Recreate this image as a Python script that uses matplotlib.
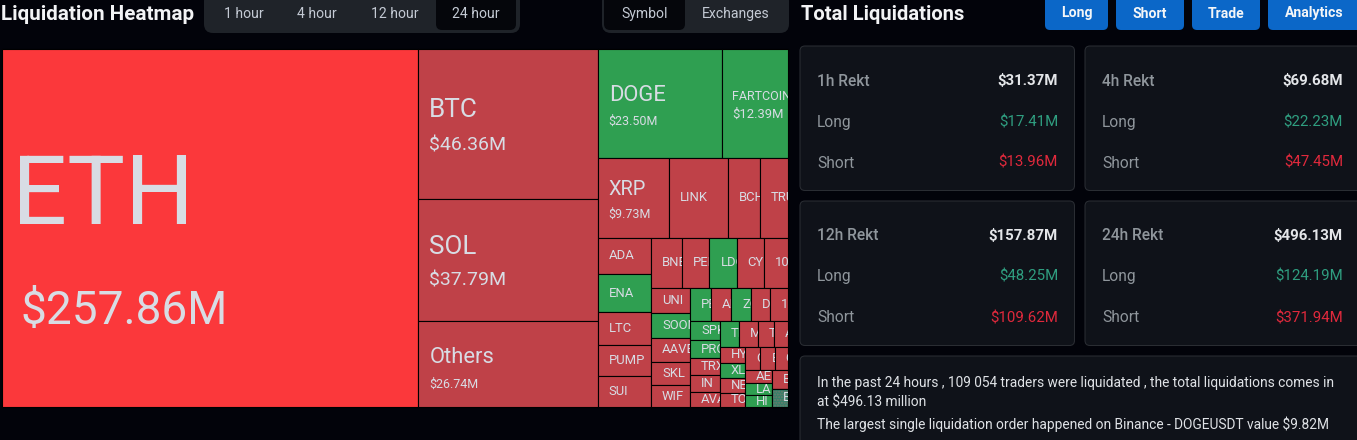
import matplotlib
matplotlib.use("Agg")
import matplotlib.pyplot as plt
from matplotlib.patches import FancyBboxPatch, Rectangle

plt.rcParams['font.family'] = ['Roboto', 'DejaVu Sans']

# treemap groups, peeled off the remaining area in this order (values in $M)
eth_names = ["ETH"]
eth_values = [257.86]
majors_names = ["BTC", "SOL", "Others"]
majors_values = [46.36, 37.79, 26.74]
meme_names = ["DOGE", "FARTCOIN"]
meme_values = [23.50, 12.39]
row2_names = ["XRP", "LINK", "BCH", "TRU"]
row2_values = [9.73, 8.2, 4.3, 3.9]
col3_names = ["ADA", "ENA", "LTC", "PUMP", "SUI"]
col3_values = [3.4, 3.5, 3.05, 2.85, 2.85]
row4_names = ["BNB", "PEP", "LDO", "CYB", "100"]
row4_values = [2.7, 2.35, 2.35, 2.35, 2.1]
col5_names = ["UNI", "SOON", "AAVE", "SKL", "WIF"]
col5_values = [1.69, 1.69, 1.62, 1.55, 1.48]
row6_names = ["PE", "AI", "ZO", "D", "1"]
row6_values = [1.21, 1.15, 1.15, 1.1, 1.04]
col7_names = ["SPK", "PRO", "TRX", "IN", "AVA"]
col7_values = [0.99, 0.93, 0.88, 0.88, 0.78]
row8_names = ["TI", "M", "T", "A"]
row8_values = [0.85, 0.81, 0.72, 0.63]
col9_names = ["HY", "XL", "NE", "TO"]
col9_values = [0.69, 0.65, 0.65, 0.62]
row10_names = ["C", "E", "G"]
row10_values = [0.62, 0.58, 0.54]
col11_names = ["AE", "LA", "HI"]
col11_values = [0.61, 0.56, 0.56]
col12_names = ["Et", "Ei"]
col12_values = [0.5, 0.5]

green_names = ["DOGE", "FARTCOIN", "ENA", "LDO", "SOON", "PE", "ZO", "SPK", "PRO",
               "TI", "XL", "LA", "HI"]
amounts = {"ETH": "$257.86M", "BTC": "$46.36M", "SOL": "$37.79M", "Others": "$26.74M",
           "DOGE": "$23.50M", "FARTCOIN": "$12.39M", "XRP": "$9.73M"}

tabs = ["1 hour", "4 hour", "12 hour", "24 hour"]
modes = ["Symbol", "Exchanges"]
buttons = ["Long", "Short", "Trade", "Analytics"]
card_titles = ["1h Rekt", "4h Rekt", "12h Rekt", "24h Rekt"]
card_totals = ["$31.37M", "$69.68M", "$157.87M", "$496.13M"]
card_longs = ["$17.41M", "$22.23M", "$48.25M", "$124.19M"]
card_shorts = ["$13.96M", "$47.45M", "$109.62M", "$371.94M"]
summary = ["In the past 24 hours , 109 054 traders were liquidated , the total liquidations comes in",
           "at $496.13 million",
           "The largest single liquidation order happened on Binance - DOGEUSDT value $9.82M"]

BG = "#02030a"
RED = "#bf4148"
HOT = "#fb383b"
GREEN = "#2f9f51"
LABEL = "#d8dce4"
CARD = "#0f1219"
EDGE = "#2a2d33"
PILL = "#1f2329"
BLUE = "#0b67c8"

fig = plt.figure(figsize=(13.57, 4.4), dpi=100, facecolor=BG)
ax = fig.add_axes([0, 0, 1, 1])
ax.set_xlim(0, 1357)
ax.set_ylim(440, 0)
ax.axis("off")


def px(size):
    return size * 0.72


def box(x0, y0, x1, y1, color, radius=6, edge="none", lw=0, z=1):
    ax.add_patch(FancyBboxPatch((x0 + radius, y0 + radius), x1 - x0 - 2 * radius, y1 - y0 - 2 * radius,
                                boxstyle=f"round,pad={radius},rounding_size={radius}",
                                fc=color, ec=edge, lw=lw, zorder=z))


def label(x, y, s, size, color=LABEL, weight="normal", ha="left", z=5, clip=None):
    t = ax.text(x, y + 1, s, fontsize=px(size), color=color, fontweight=weight, ha=ha, va="center", zorder=z)
    if clip is not None:
        t.set_clip_path(clip)
        t.set_clip_on(True)
    return t


# ---- treemap ----
groups = [("col", eth_names, eth_values), ("col", majors_names, majors_values),
          ("row", meme_names, meme_values), ("row", row2_names, row2_values),
          ("col", col3_names, col3_values), ("row", row4_names, row4_values),
          ("col", col5_names, col5_values), ("row", row6_names, row6_values),
          ("col", col7_names, col7_values), ("row", row8_names, row8_values),
          ("col", col9_names, col9_values), ("row", row10_names, row10_values),
          ("col", col11_names, col11_values), ("col", col12_names, col12_values)]

# name px, value px, gap between the two, left pad of name, left pad of value, shift down
big_styles = {"ETH": (97, 46, 113, 10, 19, 25), "BTC": (26, 19.5, 35, 11, 11, 3),
              "SOL": (26, 19.5, 34, 11, 11, 3), "Others": (22, 12.5, 26, 11, 11, 6),
              "DOGE": (22, 12.5, 26, 11, 11, 4), "FARTCOIN": (12.5, 13, 18, 10, 10, 1),
              "XRP": (20, 12.5, 24, 11, 11, 3)}

x, y, x1, y1 = 1.5, 49.0, 788.0, 407.0
remaining = sum(sum(g[2]) for g in groups)
for kind, names, values in groups:
    group_total = sum(values)
    share = group_total / remaining
    if kind == "col":
        w = (x1 - x) * share
        pos = y
        cells = []
        for v in values:
            h = (y1 - y) * v / group_total
            cells.append((x, pos, w, h))
            pos += h
        x += w
    else:
        h = (y1 - y) * share
        pos = x
        cells = []
        for v in values:
            w = (x1 - x) * v / group_total
            cells.append((pos, y, w, h))
            pos += w
        y += h
    remaining -= group_total

    for name, (cx, cy, cw, ch) in zip(names, cells):
        color = GREEN if name in green_names else RED
        if name == "ETH":
            color = HOT
        rect = Rectangle((cx, cy), cw, ch, fc=color, ec="black", lw=0.8, zorder=2)
        ax.add_patch(rect)
        if name == "Ei":
            # the last cell is a dither of green and red in the reference
            ax.add_patch(Rectangle((cx, cy), cw, ch, fc="#35806a", ec="#6f7a6a", lw=0, hatch="......", zorder=2.1))
            ax.add_patch(Rectangle((cx, cy), cw, ch, fc="none", ec="black", lw=0.8, zorder=2.2))
        mid = cy + ch / 2
        if name in amounts:
            nsize, vsize, gap, npad, vpad, shift = big_styles[name]
            label(cx + npad, mid - gap / 2 + shift, name, nsize, clip=rect)
            label(cx + vpad, mid + gap / 2 + shift, amounts[name], vsize, clip=rect)
        else:
            label(cx + 11, mid - 1, name, 13, clip=rect)

# ---- header left ----
label(1, 13, "Liquidation Heatmap", 20.7, color="#f2f3f5", weight="bold")
box(204, -8, 520, 33, PILL, radius=9)
box(436, -8, 516, 30, "#05060b", radius=6, z=2)
for s, cx in zip(tabs, [244, 317, 395, 476]):
    label(cx, 13, s, 14, color="#c4cad4", ha="center")
box(602, -8, 789, 33, PILL, radius=9)
box(604, -8, 685, 30, "#05060b", radius=6, z=2)
for s, cx in zip(modes, [645, 736]):
    label(cx, 13, s, 14, color="#c4cad4", ha="center")

# ---- header right ----
label(801, 13, "Total Liquidations", 20.2, color="#f2f3f5", weight="bold")
for s, (b0, b1) in zip(buttons, [(1045, 1108), (1116, 1184), (1192, 1260), (1268, 1370)]):
    box(b0, -8, b1, 30, BLUE, radius=5)
for s, cx in zip(buttons, [1077, 1150, 1226, 1314]):
    label(cx, 12.5, s, 14, color="#f4f6f8", weight="bold", ha="center")

# ---- cards ----
card_boxes = [(800, 46, 1074.5, 190.5), (1085, 46, 1369, 190.5),
              (800, 201, 1074.5, 345.5), (1085, 201, 1369, 345.5)]
for i, (c0, c1, c2, c3) in enumerate(card_boxes):
    box(c0, c1, c2, c3, CARD, radius=5, edge=EDGE, lw=0.75)
    left = c0 + 17
    right = 1058 if c0 == 800 else 1343
    label(left, c1 + 34, card_titles[i], 15.5, color="#8f969c", weight="medium")
    label(left, c1 + 75, "Long", 15.5, color="#8f969c")
    label(left, c1 + 116, "Short", 15.5, color="#8f969c")
    label(right, c1 + 34, card_totals[i], 15, color="#e4e6e9", weight="bold", ha="right")
    label(right, c1 + 75, card_longs[i], 15, color="#2f9e80", ha="right")
    label(right, c1 + 116, card_shorts[i], 15, color="#e0293c", ha="right")

box(800, 356, 1369, 460, CARD, radius=5, edge=EDGE, lw=0.75)
for s, ty in zip(summary, [382, 402, 423]):
    label(817, ty, s, 13.8, color="#dfe2e6")

fig.savefig("out.png", dpi=100, facecolor=BG)
